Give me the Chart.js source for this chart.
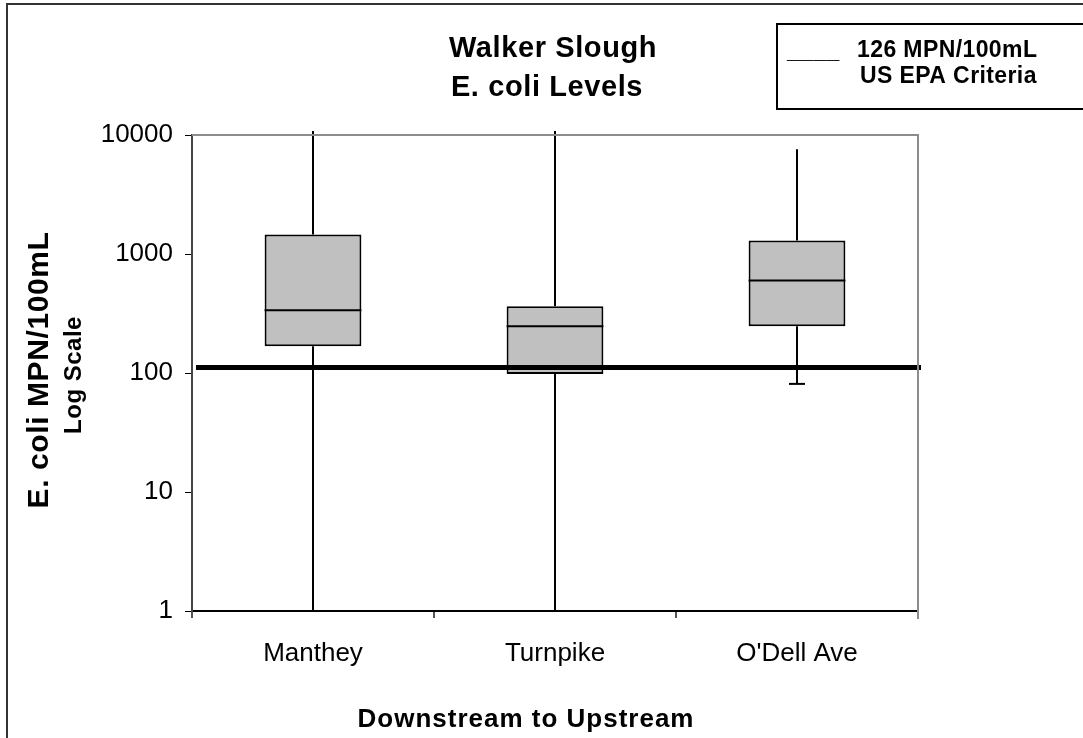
<!DOCTYPE html>
<html>
<head>
<meta charset="utf-8">
<title>Walker Slough E. coli Levels</title>
<script src="https://cdn.jsdelivr.net/npm/chart.js@4.4.1/dist/chart.umd.min.js"></script>
<style>
  html, body { margin: 0; padding: 0; background: #fff; }
  #wrap { width: 1083px; height: 738px; position: relative; }
</style>
</head>
<body>
<div id="wrap"><canvas id="myChart" width="1083" height="738"></canvas></div>
<script>
// values
const sites = ['Manthey', 'Turnpike', "O'Dell Ave"];
const mins = [1, 1, 81];
const q1 = [168, 98, 247];
const medians = [337, 247, 600];
const q3 = [1460, 363, 1300];
const maxs = [10800, 10800, 7600];
const criteria = 111;
const yTicks = [1, 10, 100, 1000, 10000];

const FONT = "'Liberation Sans', Arial, sans-serif";

function spaced(ctx, px) {
    if ('letterSpacing' in ctx) ctx.letterSpacing = px + 'px';
}

const boxPlugin = {
    id: 'boxParts',
    beforeDatasetsDraw(chart) {
        const ctx = chart.ctx, x = chart.scales.x, y = chart.scales.y;
        ctx.save();
        ctx.strokeStyle = '#000';
        ctx.lineWidth = 2;
        sites.forEach((s, i) => {
            const cx = Math.round(x.getPixelForValue(i));
            ctx.beginPath();
            ctx.moveTo(cx, y.getPixelForValue(maxs[i]));
            ctx.lineTo(cx, y.getPixelForValue(q3[i]));
            ctx.moveTo(cx, y.getPixelForValue(q1[i]));
            ctx.lineTo(cx, y.getPixelForValue(mins[i]));
            ctx.stroke();
            // bottom cap
            const yb = y.getPixelForValue(mins[i]);
            ctx.beginPath();
            ctx.moveTo(cx - 8, yb);
            ctx.lineTo(cx + 8, yb);
            ctx.stroke();
        });
        ctx.restore();
    },
    afterDatasetsDraw(chart) {
        const ctx = chart.ctx, y = chart.scales.y;
        const meta = chart.getDatasetMeta(0);
        ctx.save();
        ctx.strokeStyle = '#000';
        ctx.lineWidth = 2;
        meta.data.forEach((bar, i) => {
            const ym = y.getPixelForValue(medians[i]);
            ctx.beginPath();
            ctx.moveTo(bar.x - bar.width / 2, ym);
            ctx.lineTo(bar.x + bar.width / 2, ym);
            ctx.stroke();
        });
        // criteria line
        const area = chart.chartArea;
        const yc = y.getPixelForValue(criteria);
        ctx.lineWidth = 5;
        ctx.beginPath();
        ctx.moveTo(area.left + 4, yc);
        ctx.lineTo(area.right + 3, yc);
        ctx.stroke();
        ctx.restore();
    },
    afterDraw(chart) {
        const ctx = chart.ctx, area = chart.chartArea;
        ctx.save();
        // gray top and right edges of the plot
        ctx.strokeStyle = '#8c8c8c';
        ctx.lineWidth = 2;
        ctx.beginPath();
        ctx.moveTo(area.left, area.top);
        ctx.lineTo(area.right, area.top);
        ctx.lineTo(area.right, area.bottom + 8);
        ctx.stroke();

        // outer frame (top and left only visible)
        ctx.strokeStyle = '#333';
        ctx.beginPath();
        ctx.moveTo(7, 740);
        ctx.lineTo(7, 4);
        ctx.lineTo(1090, 4);
        ctx.stroke();

        // title
        ctx.fillStyle = '#000';
        ctx.textAlign = 'center';
        ctx.textBaseline = 'alphabetic';
        ctx.font = 'bold 29px ' + FONT;
        spaced(ctx, 0.6);
        ctx.fillText('Walker Slough', 553, 57);
        ctx.fillText('E. coli Levels', 547, 96);

        // legend box
        ctx.strokeStyle = '#000';
        ctx.lineWidth = 2;
        ctx.strokeRect(777, 24, 320, 85);
        ctx.textAlign = 'left';
        ctx.font = 'bold 23px ' + FONT;
        spaced(ctx, 0.4);
        ctx.fillText('____', 787, 58);
        ctx.fillText('126 MPN/100mL', 857, 57);
        ctx.fillText('US EPA Criteria', 860, 83);

        // axis titles
        ctx.textAlign = 'center';
        ctx.font = 'bold 26px ' + FONT;
        spaced(ctx, 1);
        ctx.fillText('Downstream to Upstream', 526, 727);

        ctx.save();
        ctx.translate(48, 370);
        ctx.rotate(-Math.PI / 2);
        ctx.font = 'bold 30px ' + FONT;
        spaced(ctx, 0.6);
        ctx.fillText('E. coli MPN/100mL', 0, 0);
        ctx.restore();

        ctx.save();
        ctx.translate(81, 375);
        ctx.rotate(-Math.PI / 2);
        ctx.font = 'bold 24px ' + FONT;
        spaced(ctx, 0.5);
        ctx.fillText('Log Scale', 0, 0);
        ctx.restore();

        ctx.restore();
    }
};

const ctx = document.getElementById('myChart').getContext('2d');
const myChart = new Chart(ctx, {
    type: 'bar',
    data: {
        labels: sites,
        datasets: [{
            label: 'E. coli',
            data: sites.map((s, i) => [q1[i], q3[i]]),
            backgroundColor: '#c0c0c0',
            borderColor: '#000',
            borderWidth: 2,
            borderSkipped: false,
            barPercentage: 0.4,
            categoryPercentage: 1.0
        }]
    },
    options: {
        responsive: false,
        animation: false,
        layout: { padding: { top: 135, right: 165, left: 0, bottom: 0 } },
        plugins: {
            legend: { display: false },
            title: { display: false },
            tooltip: { enabled: false }
        },
        scales: {
            x: {
                grid: {
                    display: true,
                    offset: true,
                    drawOnChartArea: false,
                    drawTicks: true,
                    tickLength: 7,
                    color: '#555',
                    lineWidth: 2
                },
                border: { display: true, color: '#000', width: 2 },
                ticks: {
                    color: '#000',
                    padding: 20,
                    font: { family: FONT, size: 26 }
                },
                afterFit(scale) { scale.height = 127; }
            },
            y: {
                type: 'logarithmic',
                min: 1,
                max: 10000,
                grid: {
                    drawOnChartArea: false,
                    drawTicks: true,
                    tickLength: 7,
                    color: '#000',
                    lineWidth: 1
                },
                border: { display: true, color: '#444', width: 2 },
                afterBuildTicks(scale) {
                    scale.ticks = yTicks.map(v => ({ value: v }));
                },
                ticks: {
                    color: '#000',
                    padding: 12,
                    font: { family: FONT, size: 26 },
                    callback: v => String(v)
                },
                afterFit(scale) { scale.width = 192; }
            }
        }
    },
    plugins: [boxPlugin]
});
</script>
</body>
</html>
